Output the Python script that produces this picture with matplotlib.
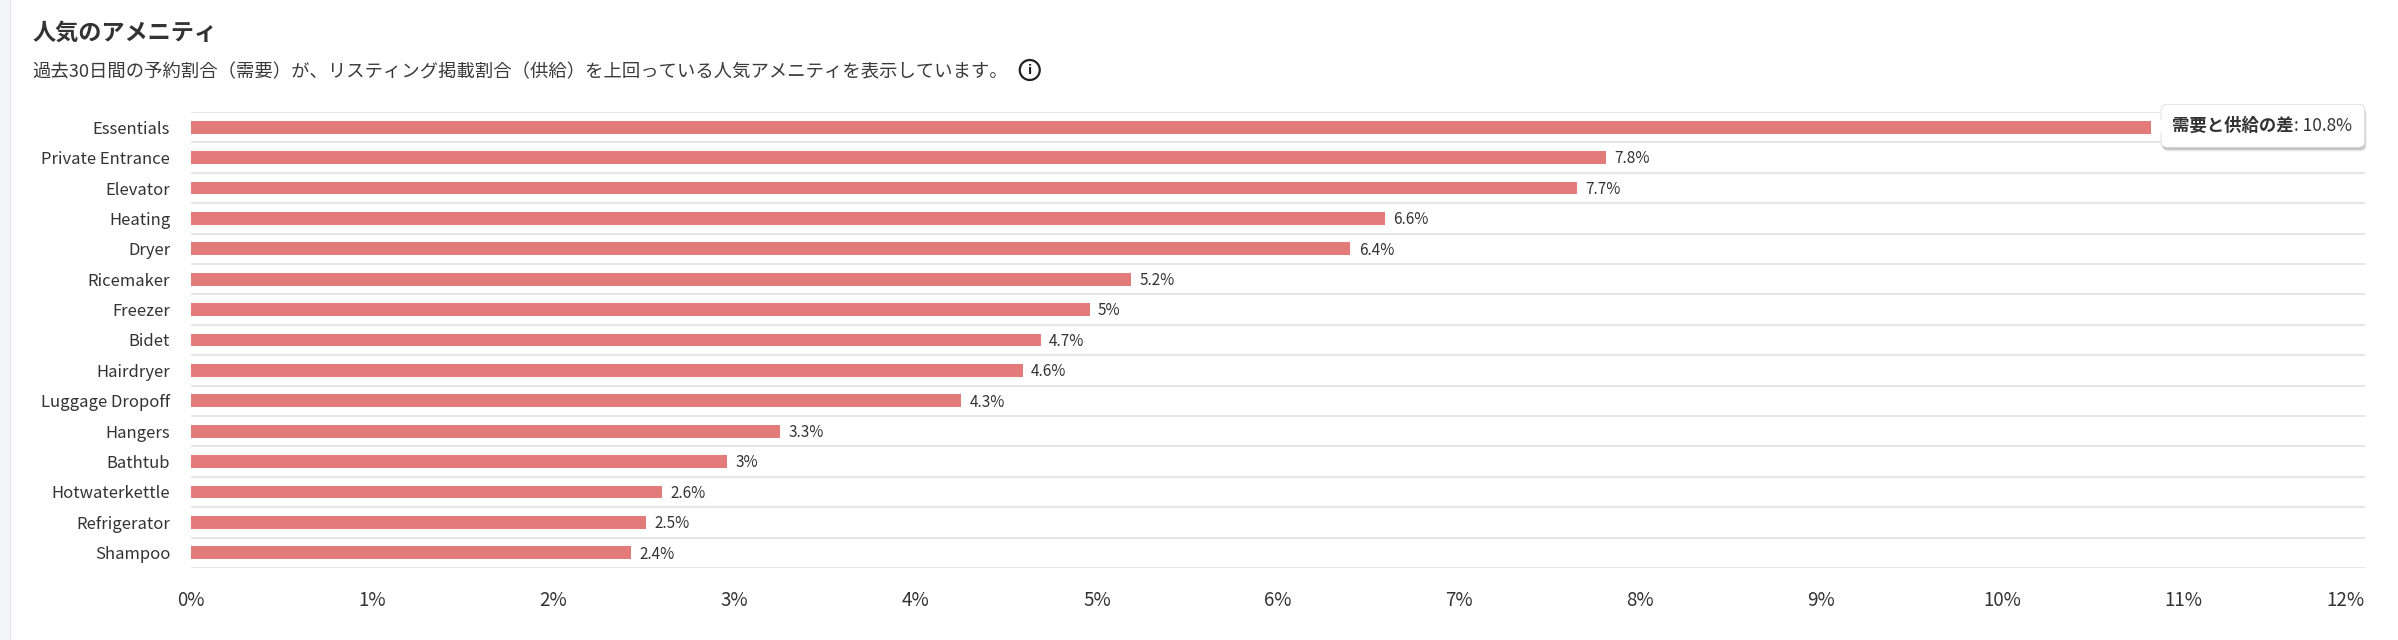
import matplotlib
matplotlib.use("Agg")
import matplotlib.pyplot as plt
import numpy as np
from matplotlib.patches import FancyBboxPatch, Polygon, Rectangle
from matplotlib.transforms import IdentityTransform

plt.rcParams["font.family"] = ["Noto Sans CJK JP", "DejaVu Sans"]

# データ（需要と供給の差, %）: バーの長さは画像から読み取り、ラベルは表示どおり
amenities = [
    "Essentials", "Private Entrance", "Elevator", "Heating", "Dryer",
    "Ricemaker", "Freezer", "Bidet", "Hairdryer", "Luggage Dropoff",
    "Hangers", "Bathtub", "Hotwaterkettle", "Refrigerator", "Shampoo",
]
gap_pct = [10.82, 7.81, 7.65, 6.59, 6.40, 5.19, 4.96, 4.69, 4.59, 4.25,
           3.25, 2.96, 2.60, 2.51, 2.43]
gap_labels = ["10.8%", "7.8%", "7.7%", "6.6%", "6.4%", "5.2%", "5%", "4.7%",
              "4.6%", "4.3%", "3.3%", "3%", "2.6%", "2.5%", "2.4%"]
x_ticks = list(range(0, 13))

title = "人気のアメニティ"
subtitle = "過去30日間の予約割合（需要）が、リスティング掲載割合（供給）を上回っている人気アメニティを表示しています。"
tooltip_label = "需要と供給の差"

BAR = "#e37b7b"
TEXT = "#333333"
GRID = "#e6e6e6"
W, H = 2398, 640

fig = plt.figure(figsize=(W / 100, H / 100), dpi=100)
fig.patches.append(Rectangle((0, 0), 9 / W, 1, transform=fig.transFigure,
                             color="#f4f5f7", zorder=0))
fig.add_artist(plt.Line2D([9.5 / W, 9.5 / W], [0, 1], color="#e8e8ea", lw=1))

fig.text(32 / W, 1 - 33 / H, title, fontsize=16.7, fontweight="bold",
         color=TEXT, va="center", ha="left")
sub = fig.text(32 / W, 1 - 72 / H, subtitle, fontsize=13.2, color="#3a3a3a",
               va="center", ha="left")

ax = fig.add_axes([191 / W, 72 / H, 2174 / W, 456 / H])
ypos = np.arange(len(amenities))
ax.barh(ypos, gap_pct, height=0.42, color=BAR, zorder=2)
ax.set_xlim(0, 12)
ax.set_ylim(len(amenities) - 0.5, -0.5)
for b in np.arange(-0.5, len(amenities)):
    ax.axhline(b, color=GRID, lw=1.5, zorder=1)

ax.set_yticks(ypos)
ax.set_yticklabels(amenities, fontsize=12, color=TEXT)
ax.set_xticks(x_ticks)
ax.set_xticklabels([f"{t}%" for t in x_ticks], fontsize=13.5, color=TEXT)
ax.get_xticklabels()[-1].set_ha("right")
ax.tick_params(length=0)
ax.tick_params(axis="y", pad=15)
ax.tick_params(axis="x", pad=16)
for s in ax.spines.values():
    s.set_visible(False)

for i, (v, lab) in enumerate(zip(gap_pct, gap_labels)):
    if i == 0:
        continue  # 先頭はツールチップで表示
    ax.annotate(lab, xy=(v, i), xytext=(6, -1), textcoords="offset points",
                va="center", ha="left", fontsize=11, color=TEXT)

# ツールチップ
t1 = ax.annotate(tooltip_label, xy=(gap_pct[0], 0), xytext=(15, 1),
                 textcoords="offset points", va="center", ha="left",
                 fontsize=12.5, fontweight="bold", color=TEXT, zorder=6,
                 annotation_clip=False)
t2 = ax.annotate(f": {gap_labels[0]}", xy=(1, 0), xycoords=t1, va="bottom",
                 ha="left", fontsize=12.5, color=TEXT, zorder=6,
                 annotation_clip=False)

fig.canvas.draw()
r = fig.canvas.get_renderer()
b1 = t1.get_window_extent(r)
b2 = t2.get_window_extent(r)
x0, x1 = b1.x0 - 11, b2.x1 + 13
yc = (b1.y0 + b1.y1) / 2
y0, y1 = yc - 21.5, yc + 21.5
tip_x, tip_y = ax.transData.transform((gap_pct[0], 0))

for dx, dy, a in [(1, -3, 0.10), (2, -4, 0.08), (0, -2, 0.10)]:
    ax.add_patch(FancyBboxPatch((x0 + dx, y0 + dy), x1 - x0, y1 - y0,
                                boxstyle="round,pad=0,rounding_size=6",
                                transform=IdentityTransform(), fc="black",
                                ec="none", alpha=a, zorder=4, clip_on=False))
ax.add_patch(FancyBboxPatch((x0, y0), x1 - x0, y1 - y0,
                            boxstyle="round,pad=0,rounding_size=6",
                            transform=IdentityTransform(), fc="white",
                            ec="#dddddd", lw=0.6, zorder=5, clip_on=False))
ax.add_patch(Polygon([(tip_x + 1, tip_y + 1), (x0 + 1, tip_y + 8), (x0 + 1, tip_y - 6)],
                     closed=True, transform=IdentityTransform(), fc="white",
                     ec="none", zorder=5, clip_on=False))

# 情報アイコン
sb = sub.get_window_extent(r)
fig.text(sb.x1 + 22, (sb.y0 + sb.y1) / 2 + 2, "i", transform=IdentityTransform(),
         fontsize=9, fontweight="bold", color="#222222", ha="center", va="center",
         family="DejaVu Sans",
         bbox=dict(boxstyle="circle,pad=0.28", fc="white", ec="#222222", lw=1.6))

fig.savefig("out.png", dpi=100, facecolor="white")
